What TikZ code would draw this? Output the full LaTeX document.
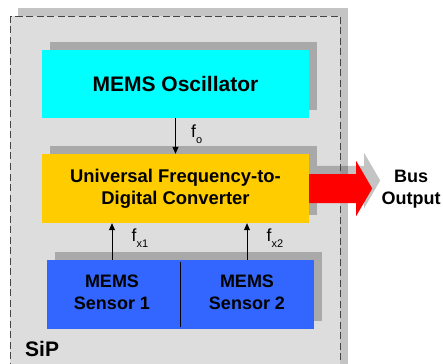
\documentclass[tikz,border=0pt]{standalone}
\usepackage{fontspec}
\setmainfont{Liberation Sans}
\usetikzlibrary{arrows.meta,positioning,shadows}

\definecolor{sipgray}{HTML}{DDDDDD}
\definecolor{osccyan}{HTML}{00FFFF}
\definecolor{ufdcyellow}{HTML}{FFCC00}
\definecolor{sensblue}{HTML}{3366FF}
\definecolor{dashgray}{HTML}{444444}

\newcommand{\flbl}[1]{f\raisebox{-6pt}{\fontsize{11}{11}\selectfont #1}}

\tikzset{busarrow/.pic={\path[pic actions] (0,-14.5) -- (47,-14.5) -- (47,-27.5) -- (63,0)
  -- (47,27.5) -- (47,14.5) -- (0,14.5) -- cycle;}}

\begin{document}
\begin{tikzpicture}[x=1pt,y=-1pt,
  every node/.style={font=\fontsize{18}{22}\selectfont\bfseries},
  blk/.style={minimum width=267pt,minimum height=68pt,inner sep=0pt,align=center,
    general shadow={fill=black,opacity=0.23,shadow xshift=8pt,shadow yshift=8pt}},
  sig/.style={-{Triangle[length=7pt,width=6pt]},line width=0.8pt},
  flab/.style={font=\fontsize{17.5}{17.5}\selectfont,anchor=base west,inner sep=0pt}]
\useasboundingbox (0,0) rectangle (443,363);
\begin{scope}
\clip (0,0) rectangle (443,363);
% SiP package
\fill[black,opacity=0.23] (18,8) rectangle (348,380);
\fill[sipgray] (10,16) rectangle (340,380);

\node[blk,fill=osccyan,font=\fontsize{21}{25}\selectfont\bfseries] (osc) at (175.5,84) {MEMS Oscillator};
\node[blk,fill=ufdcyellow,minimum height=69pt,font=\fontsize{18.4}{22}\selectfont\bfseries] (ufdc) at (175.5,188.5) {Universal Frequency-to-\\Digital Converter};
\node[blk,fill=sensblue,minimum height=69pt] (sens) at (180.5,294.5) {};
\node[align=center] (sens1) at (112,292) {MEMS\\Sensor 1};
\node[align=center] (sens2) at (247,292) {MEMS\\Sensor 2};
\draw[line width=0.8pt] ([yshift=-2pt]sens.north) -- ([yshift=2pt]sens.south);

\pic[fill=black,opacity=0.23] at ([shift={(8,-8)}]ufdc.east) {busarrow};
\draw[dashgray,line width=0.8pt,dash pattern=on 7pt off 3.5pt] (10,16) rectangle (340,380);
\pic[fill=red] at (ufdc.east) {busarrow};
\end{scope}

\draw[sig] (osc.south) -- (ufdc.north);
\draw[sig] (sens1 |- sens.north) -- (sens1 |- ufdc.south);
\draw[sig] (sens2 |- sens.north) -- (sens2 |- ufdc.south);
\node[flab] (fo) at (191,138) {\flbl{o}};
\node[flab] (fx1) at (131.5,241) {\flbl{x1}};
\node[flab] (fx2) at (266.5,241) {\flbl{x2}};

\node[align=center] (bus) at (411,189.5) {Bus\\Output};
\node[font=\fontsize{21}{21}\selectfont\bfseries,anchor=base west,inner sep=0pt] (sip) at (25,356) {SiP};
\end{tikzpicture}
\end{document}
